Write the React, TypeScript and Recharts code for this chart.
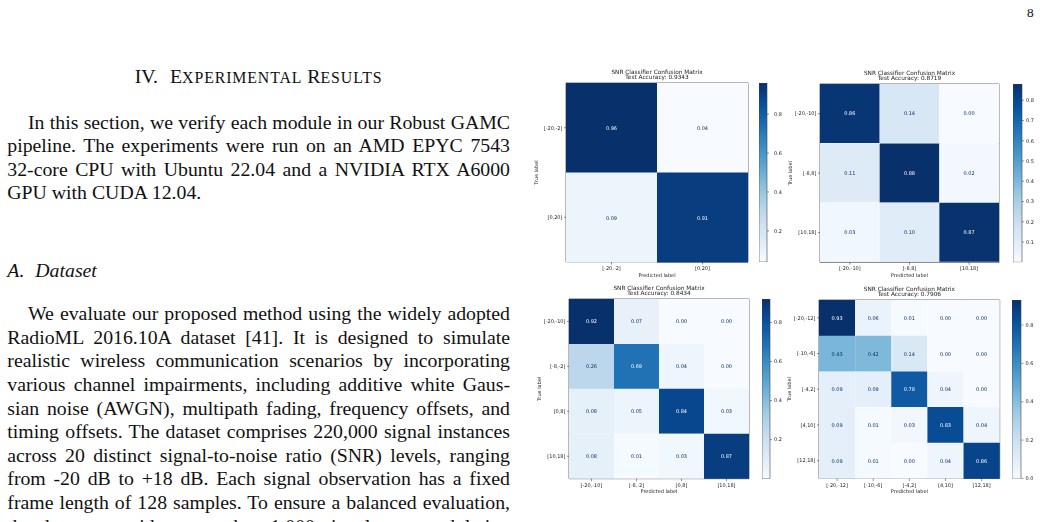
import { BarChart, Bar, XAxis, YAxis, Cell, LabelList, Label, ReferenceArea } from "recharts";

// SNR buckets and normalised confusion matrices (rows = true, cols = predicted)
const twoLabels = ["[-20,-2]", "[0,20]"];
const twoMatrix = [
  [0.96, 0.04],
  [0.09, 0.91],
];
const twoAccuracy = "0.9343";
const twoBarTicks = [0.2, 0.4, 0.6, 0.8];

const threeLabels = ["[-20,-10]", "[-8,8]", "[10,18]"];
const threeMatrix = [
  [0.86, 0.14, 0.0],
  [0.11, 0.88, 0.02],
  [0.03, 0.1, 0.87],
];
const threeAccuracy = "0.8719";
const threeBarTicks = [0.1, 0.2, 0.3, 0.4, 0.5, 0.6, 0.7, 0.8];

const fourLabels = ["[-20,-10]", "[-8,-2]", "[0,8]", "[10,18]"];
const fourMatrix = [
  [0.92, 0.07, 0.0, 0.0],
  [0.26, 0.69, 0.04, 0.0],
  [0.08, 0.05, 0.84, 0.03],
  [0.08, 0.01, 0.03, 0.87],
];
const fourAccuracy = "0.8434";
const fourBarTicks = [0.2, 0.4, 0.6, 0.8];

const fiveLabels = ["[-20,-12]", "[-10,-6]", "[-4,2]", "[4,10]", "[12,18]"];
const fiveMatrix = [
  [0.93, 0.06, 0.01, 0.0, 0.0],
  [0.43, 0.42, 0.14, 0.0, 0.0],
  [0.09, 0.09, 0.78, 0.04, 0.0],
  [0.09, 0.01, 0.03, 0.83, 0.04],
  [0.09, 0.01, 0.0, 0.04, 0.86],
];
const fiveAccuracy = "0.7906";
const fiveBarTicks = [0.0, 0.2, 0.4, 0.6, 0.8];

// body text of the column, one entry per typeset line
const introLines = [
  "In this section, we verify each module in our Robust GAMC",
  "pipeline. The experiments were run on an AMD EPYC 7543",
  "32-core CPU with Ubuntu 22.04 and a NVIDIA RTX A6000",
  "GPU with CUDA 12.04.",
];
const datasetLines = [
  "We evaluate our proposed method using the widely adopted",
  "RadioML 2016.10A dataset [41]. It is designed to simulate",
  "realistic wireless communication scenarios by incorporating",
  "various channel impairments, including additive white Gaus-",
  "sian noise (AWGN), multipath fading, frequency offsets, and",
  "timing offsets. The dataset comprises 220,000 signal instances",
  "across 20 distinct signal-to-noise ratio (SNR) levels, ranging",
  "from -20 dB to +18 dB. Each signal observation has a fixed",
  "frame length of 128 samples. To ensure a balanced evaluation,",
  "the dataset provides more than 1,000 signals per modulation",
];

// matplotlib "Blues"
const BLUES = ["#f7fbff", "#deebf7", "#c6dbef", "#9ecae1", "#6baed6", "#4292c6", "#2171b5", "#08519c", "#08306b"];

function hexRgb(h: string) {
  return [1, 3, 5].map((i) => parseInt(h.slice(i, i + 2), 16));
}

function blues(t: number) {
  const c = Math.max(0, Math.min(1, t)) * (BLUES.length - 1);
  const i = Math.min(Math.floor(c), BLUES.length - 2);
  const f = c - i;
  const a = hexRgb(BLUES[i]);
  const b = hexRgb(BLUES[i + 1]);
  const m = a.map((v, k) => Math.round(v + (b[k] - v) * f));
  return `rgb(${m[0]},${m[1]},${m[2]})`;
}

const SANS = '"DejaVu Sans", sans-serif';
const SERIF = '"Liberation Serif", "Times New Roman", serif';
const INK = "#222";

type Box = { x: number; y: number; w: number; h: number };

type PanelProps = {
  id: string;
  labels: string[];
  matrix: number[][];
  accuracy: string;
  barTicks: number[];
  plot: Box;
  barX: number;
  barW: number;
  barGap?: number;
};

// grayscale text AA for the tiny figure text
const layer = { willChange: "transform" } as const;

function ConfusionPanel({ id, labels, matrix, accuracy, barTicks, plot, barX, barW, barGap = 2 }: PanelProps) {
  const n = labels.length;
  const flat = matrix.flat();
  const lo = Math.min(...flat);
  const hi = Math.max(...flat);
  const mid = (lo + hi) / 2;

  const rows = labels.map((label, i) => {
    const row: Record<string, string | number> = { label };
    matrix[i].forEach((v, j) => {
      row[`c${j}`] = 1;
      row[`v${j}`] = v;
    });
    return row;
  });

  const padL = 40;
  const padT = 5;
  const padR = 5;
  const padB = 20;

  const cellText = (p: any) => {
    const vb = p.viewBox ?? p;
    const v = Number(p.value);
    return (
      <text
        x={vb.x + vb.width / 2}
        y={vb.y + vb.height / 2}
        textAnchor="middle"
        dominantBaseline="central"
        fontSize={5}
        fontFamily={SANS}
        fill={v > mid ? "#ffffff" : "#08306b"}
      >
        {v.toFixed(2)}
      </text>
    );
  };

  const tickStyle = { fontSize: 5, fill: INK, fontFamily: SANS };

  return (
    <>
      <svg
        style={{ position: "absolute", left: plot.x, top: plot.y - 16, ...layer }}
        width={plot.w}
        height={14}
        fontFamily={SANS}
        fontSize={5.8}
        fill={INK}
      >
        <text x={plot.w / 2} y={7.2} textAnchor="middle">
          SNR Classifier Confusion Matrix
        </text>
        <text x={plot.w / 2} y={12.2} textAnchor="middle">
          Test Accuracy: {accuracy}
        </text>
      </svg>

      <div style={{ position: "absolute", left: plot.x - padL, top: plot.y - padT, ...layer }}>
        <BarChart
          layout="vertical"
          width={plot.w + padL + padR}
          height={plot.h + padT + padB}
          data={rows}
          margin={{ top: padT, right: padR, bottom: 0, left: 0 }}
          barCategoryGap={0}
        >
          <XAxis
            type="number"
            domain={[0, n]}
            ticks={labels.map((_, j) => j + 0.5)}
            tickFormatter={(v: number) => labels[Math.floor(v)]}
            interval={0}
            height={padB}
            tick={tickStyle}
            tickSize={2.5}
            tickMargin={2}
            axisLine={false}
            tickLine={{ stroke: INK, strokeWidth: 0.5 }}
          >
            <Label
              content={() => (
                <text x={padL + plot.w / 2} y={padT + plot.h + 14.7} textAnchor="middle" fontSize={5} fontFamily={SANS} fill={INK}>
                  Predicted label
                </text>
              )}
            />
          </XAxis>
          <YAxis
            type="category"
            dataKey="label"
            width={padL}
            interval={0}
            tick={tickStyle}
            tickSize={2}
            tickMargin={1.5}
            axisLine={false}
            tickLine={{ stroke: INK, strokeWidth: 0.5 }}
          >
            <Label
              content={() => (
                <text
                  x={10}
                  y={padT + plot.h / 2}
                  transform={`rotate(-90 10 ${padT + plot.h / 2})`}
                  textAnchor="middle"
                  dominantBaseline="central"
                  fontSize={5}
                  fontFamily={SANS}
                  fill={INK}
                >
                  True label
                </text>
              )}
            />
          </YAxis>
          {labels.map((_, j) => (
            <Bar key={j} dataKey={`c${j}`} stackId="cm" isAnimationActive={false}>
              {matrix.map((r, i) => (
                <Cell key={i} fill={blues((r[j] - lo) / (hi - lo))} />
              ))}
              <LabelList dataKey={`v${j}`} content={cellText} />
            </Bar>
          ))}
          <ReferenceArea
            x1={0}
            x2={n}
            y1={labels[0]}
            y2={labels[n - 1]}
            fill="none"
            stroke="#333"
            strokeWidth={0.7}
            ifOverflow="visible"
          />
        </BarChart>
      </div>

      <div style={{ position: "absolute", left: barX, top: plot.y - padT, ...layer }}>
        <BarChart
          width={barW + 30}
          height={plot.h + padT * 2}
          data={[{ k: "scale", span: [lo, hi] }]}
          margin={{ top: padT, right: 0, bottom: padT, left: 0 }}
          barCategoryGap={0}
        >
          <defs>
            <linearGradient id={`grad-${id}`} x1="0" y1="1" x2="0" y2="0">
              {BLUES.map((c, k) => (
                <stop key={k} offset={k / (BLUES.length - 1)} stopColor={c} />
              ))}
            </linearGradient>
          </defs>
          <XAxis dataKey="k" hide />
          <YAxis
            orientation="right"
            type="number"
            domain={[lo, hi]}
            ticks={barTicks}
            allowDataOverflow
            interval={0}
            width={30}
            tick={tickStyle}
            tickSize={2}
            tickMargin={barGap}
            axisLine={false}
            tickLine={{ stroke: INK, strokeWidth: 0.5 }}
            tickFormatter={(v: number) => v.toFixed(1)}
          />
          <Bar dataKey="span" fill={`url(#grad-${id})`} stroke="#444" strokeWidth={0.6} isAnimationActive={false} />
        </BarChart>
      </div>
    </>
  );
}

const COL_X = 7.3;
const COL_W = 502.7;
const BODY = 19.8;
const LEAD = 23.6;

function TextLine({ text, baseline, indent = 0, justify = true }: { text: string; baseline: number; indent?: number; justify?: boolean }) {
  return (
    <div
      style={{
        position: "absolute",
        left: COL_X + indent,
        top: baseline - 18.5,
        width: COL_W - indent,
        fontFamily: SERIF,
        fontSize: BODY,
        lineHeight: `${LEAD}px`,
        textAlign: justify ? "justify" : "left",
        textAlignLast: justify ? "justify" : "auto",
        color: "#111",
      }}
    >
      {text}
    </div>
  );
}

const smallCaps = { fontSize: "0.8em", letterSpacing: 0.9 };

export default function App() {
  return (
    <div
      style={{
        position: "absolute",
        left: 0,
        top: 0,
        width: 1042,
        height: 522,
        overflow: "hidden",
        background: "#fff",
      }}
    >
      <div
        style={{
          position: "absolute",
          left: 1027,
          top: 4.5,
          fontFamily: SERIF,
          fontSize: 13.3,
          lineHeight: "16px",
          color: "#111",
        }}
      >
        8
      </div>

      <div
        style={{
          position: "absolute",
          left: COL_X,
          width: COL_W,
          top: 83.3 - 18.5,
          textAlign: "center",
          fontFamily: SERIF,
          fontSize: BODY,
          lineHeight: `${LEAD}px`,
          color: "#111",
        }}
      >
        IV.<span style={{ display: "inline-block", width: 12 }} />E<span style={smallCaps}>XPERIMENTAL</span> R
        <span style={smallCaps}>ESULTS</span>
      </div>

      {introLines.map((t, i) => (
        <TextLine
          key={`intro-${i}`}
          text={t}
          baseline={129 + i * LEAD}
          indent={i === 0 ? 20.7 : 0}
          justify={i < introLines.length - 1}
        />
      ))}

      <div
        style={{
          position: "absolute",
          left: COL_X,
          top: 277.3 - 18.5,
          fontFamily: SERIF,
          fontStyle: "italic",
          fontSize: BODY,
          lineHeight: `${LEAD}px`,
          color: "#111",
        }}
      >
        A.<span style={{ display: "inline-block", width: 11 }} />Dataset
      </div>

      {datasetLines.map((t, i) => (
        <TextLine key={`data-${i}`} text={t} baseline={320.7 + i * LEAD} indent={i === 0 ? 20.7 : 0} />
      ))}

      <ConfusionPanel
        id="two"
        labels={twoLabels}
        matrix={twoMatrix}
        accuracy={twoAccuracy}
        barTicks={twoBarTicks}
        plot={{ x: 566, y: 83.3, w: 182, h: 179 }}
        barX={759.3}
        barW={8}
        barGap={5}
      />
      <ConfusionPanel
        id="three"
        labels={threeLabels}
        matrix={threeMatrix}
        accuracy={threeAccuracy}
        barTicks={threeBarTicks}
        plot={{ x: 820, y: 84, w: 179, h: 178.3 }}
        barX={1012.7}
        barW={9}
      />
      <ConfusionPanel
        id="four"
        labels={fourLabels}
        matrix={fourMatrix}
        accuracy={fourAccuracy}
        barTicks={fourBarTicks}
        plot={{ x: 569.3, y: 299.3, w: 180, h: 179.7 }}
        barX={762.3}
        barW={8}
      />
      <ConfusionPanel
        id="five"
        labels={fiveLabels}
        matrix={fiveMatrix}
        accuracy={fiveAccuracy}
        barTicks={fiveBarTicks}
        plot={{ x: 819.3, y: 300, w: 180.7, h: 178.5 }}
        barX={1012.3}
        barW={9.4}
      />
    </div>
  );
}
